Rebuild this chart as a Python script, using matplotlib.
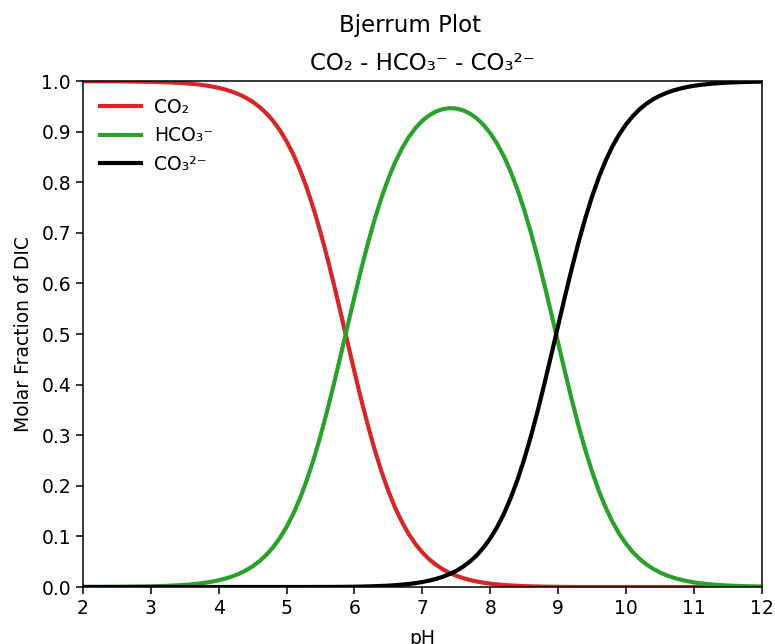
import numpy as np
import matplotlib
matplotlib.use('Agg')
from matplotlib import pyplot as plt

# values (pH step 0.1)
ph = [round(2.0 + 0.1 * i, 1) for i in range(101)]

co2 = [0.9999, 0.9998, 0.9998, 0.9997, 0.9997, 0.9996, 0.9995, 0.9993, 0.9991, 0.9989,
       0.9987, 0.9983, 0.9979, 0.9973, 0.9966, 0.9958, 0.9947, 0.9933, 0.9916, 0.9894,
       0.9867, 0.9833, 0.9791, 0.9738, 0.9672, 0.9591, 0.9490, 0.9367, 0.9216, 0.9032,
       0.8811, 0.8548, 0.8239, 0.7878, 0.7469, 0.7009, 0.6505, 0.5965, 0.5400, 0.4825,
       0.4255, 0.3703, 0.3183, 0.2704, 0.2274, 0.1894, 0.1564, 0.1283, 0.1045, 0.0847,
       0.0683, 0.0549, 0.0440, 0.0351, 0.0279, 0.0222, 0.0175, 0.0138, 0.0109, 0.0085,
       0.0067, 0.0052, 0.0040, 0.0031, 0.0023, 0.0017, 0.0013, 0.0010, 0.0007, 0.0005,
       0.0004, 0.0002, 0.0001, 0.0, 0.0, 0.0, 0.0, 0.0, 0.0, 0.0,
       0.0, 0.0, 0.0, 0.0, 0.0, 0.0, 0.0, 0.0, 0.0, 0.0,
       0.0, 0.0, 0.0, 0.0, 0.0, 0.0, 0.0, 0.0, 0.0, 0.0, 0.0]

hco3 = [0.0001, 0.0002, 0.0002, 0.0003, 0.0003, 0.0004, 0.0005, 0.0007, 0.0009, 0.0011,
        0.0013, 0.0017, 0.0021, 0.0027, 0.0034, 0.0042, 0.0053, 0.0067, 0.0084, 0.0106,
        0.0133, 0.0167, 0.0209, 0.0262, 0.0328, 0.0409, 0.0510, 0.0633, 0.0784, 0.0968,
        0.1189, 0.1452, 0.1761, 0.2121, 0.2530, 0.2990, 0.3493, 0.4033, 0.4596, 0.5170,
        0.5739, 0.6288, 0.6805, 0.7280, 0.7705, 0.8079, 0.8400, 0.8671, 0.8895, 0.9076,
        0.9218, 0.9325, 0.9401, 0.9447, 0.9466, 0.9458, 0.9423, 0.9359, 0.9265, 0.9137,
        0.8972, 0.8766, 0.8515, 0.8213, 0.7861, 0.7457, 0.7000, 0.6500, 0.5962, 0.5399,
        0.4826, 0.4257, 0.3706, 0.3187, 0.2709, 0.2279, 0.1899, 0.1570, 0.1288, 0.1051,
        0.0854, 0.0690, 0.0556, 0.0447, 0.0358, 0.0287, 0.0229, 0.0183, 0.0146, 0.0116,
        0.0092, 0.0074, 0.0059, 0.0047, 0.0037, 0.0029, 0.0023, 0.0019, 0.0015, 0.0012, 0.0009]

co3 = [0.0, 0.0, 0.0, 0.0, 0.0, 0.0, 0.0, 0.0, 0.0, 0.0,
       0.0, 0.0, 0.0, 0.0, 0.0, 0.0, 0.0, 0.0, 0.0, 0.0,
       0.0, 0.0, 0.0, 0.0, 0.0, 0.0, 0.0, 0.0, 0.0, 0.0,
       0.0, 0.0, 0.0, 0.0, 0.0001, 0.0001, 0.0001, 0.0002, 0.0003, 0.0004,
       0.0006, 0.0008, 0.0012, 0.0016, 0.0021, 0.0027, 0.0036, 0.0047, 0.0060, 0.0077,
       0.0099, 0.0126, 0.0160, 0.0202, 0.0255, 0.0320, 0.0402, 0.0503, 0.0626, 0.0778,
       0.0961, 0.1182, 0.1446, 0.1756, 0.2116, 0.2526, 0.2986, 0.3490, 0.4031, 0.4595,
       0.5171, 0.5742, 0.6293, 0.6813, 0.7291, 0.7721, 0.8101, 0.8430, 0.8712, 0.8949,
       0.9146, 0.9310, 0.9444, 0.9553, 0.9642, 0.9713, 0.9771, 0.9817, 0.9854, 0.9884,
       0.9908, 0.9926, 0.9941, 0.9953, 0.9963, 0.9971, 0.9977, 0.9981, 0.9985, 0.9988, 0.9991]

plt.rcParams['font.size'] = 13.5
plt.rcParams['axes.linewidth'] = 1.1
plt.rcParams['xtick.major.size'] = 5
plt.rcParams['ytick.major.size'] = 5
plt.rcParams['xtick.major.width'] = 1.1
plt.rcParams['ytick.major.width'] = 1.1

fig = plt.figure(figsize=(7.75, 6.44), dpi=100)
ax = fig.add_axes([0.107, 0.0885, 0.876, 0.7855])

ax.plot(ph, co2, color='#d62728', lw=3, label='CO₂')
ax.plot(ph, hco3, color='#2ca02c', lw=3, label='HCO₃⁻')
ax.plot(ph, co3, color='black', lw=3, label='CO₃²⁻')

ax.set_xlim(2, 12)
ax.set_ylim(0, 1)
ax.set_xticks(range(2, 13))
ax.set_yticks(np.arange(0, 1.01, 0.1))
ax.set_xlabel('pH', labelpad=8)
ax.set_ylabel('Molar Fraction of DIC', labelpad=6)
ax.set_title('CO₂ - HCO₃⁻ - CO₃²⁻', fontsize=16.5, pad=8)
fig.suptitle('Bjerrum Plot', fontsize=16.5, x=0.529, y=0.978)
ax.legend(loc='upper left', frameon=False, handlelength=2.2, handletextpad=0.7)

fig.savefig('out.png', dpi=100)
